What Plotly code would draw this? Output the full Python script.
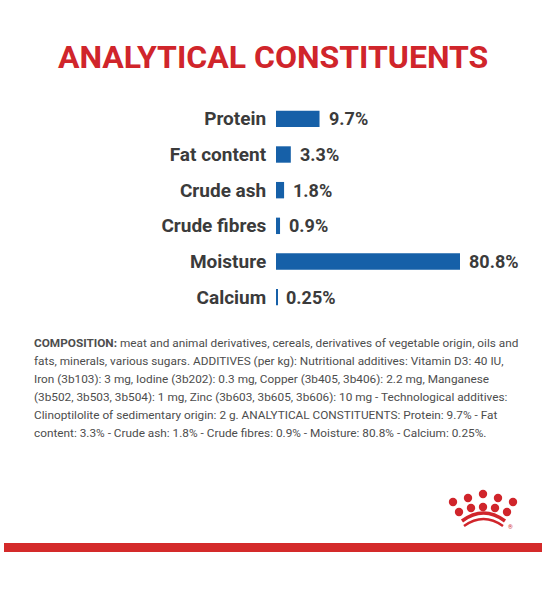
import plotly.graph_objects as go

# ---- data ----
categories = ["Protein", "Fat content", "Crude ash", "Crude fibres", "Moisture", "Calcium"]
values = [9.7, 3.3, 1.8, 0.9, 80.8, 0.25]
value_labels = ["9.7%", "3.3%", "1.8%", "0.9%", "80.8%", "0.25%"]

title_text = "ANALYTICAL CONSTITUENTS"
composition_lines = [
    "<b>COMPOSITION:</b> meat and animal derivatives, cereals, derivatives of vegetable origin, oils and",
    "fats, minerals, various sugars. ADDITIVES (per kg): Nutritional additives: Vitamin D3: 40 IU,",
    "Iron (3b103): 3 mg, Iodine (3b202): 0.3 mg, Copper (3b405, 3b406): 2.2 mg, Manganese",
    "(3b502, 3b503, 3b504): 1 mg, Zinc (3b603, 3b605, 3b606): 10 mg - Technological additives:",
    "Clinoptilolite of sedimentary origin: 2 g. ANALYTICAL CONSTITUENTS: Protein: 9.7% - Fat",
    "content: 3.3% - Crude ash: 1.8% - Crude fibres: 0.9% - Moisture: 80.8% - Calcium: 0.25%.",
]

# ---- styling / layout ----
W, H = 546, 600
L, R, T, B = 276, 460, 101, 315   # plot area in px
XMAX = 41.0                        # axis max: the long Moisture bar runs to the edge
FONT = "Roboto, Liberation Sans, Arial, sans-serif"
RED = "#d0252b"
BLUE = "#1660a8"
DARK = "#3b3b3b"

def px(x):
    return (x - L) / (R - L)

def py(y):
    return (B - y) / (B - T)

fig = go.Figure()
fig.add_trace(go.Bar(
    x=values, y=categories, orientation="h",
    marker=dict(color=BLUE, line=dict(width=0)),
    width=0.46, hoverinfo="skip",
))

annotations = []
for c, v, lab in zip(categories, values, value_labels):
    annotations.append(dict(
        x=min(v, XMAX), y=c, xref="x", yref="y", text=f"<b>{lab}</b>",
        showarrow=False, xanchor="left", yanchor="middle", xshift=7,
        font=dict(family=FONT, size=18, color=DARK),
    ))

annotations.append(dict(
    x=px(273), y=py(57), xref="paper", yref="paper", text=f"<b>{title_text}</b>",
    showarrow=False, xanchor="center", yanchor="middle",
    font=dict(family=FONT, size=32, color=RED),
))

line_y0, line_dy = 343, 18
for i, ln in enumerate(composition_lines):
    annotations.append(dict(
        x=px(32), y=py(line_y0 + i * line_dy), xref="paper", yref="paper",
        text=ln, align="left",
        showarrow=False, xanchor="left", yanchor="middle",
        font=dict(family=FONT, size=11.8, color="#4d4d4d"),
    ))

annotations.append(dict(
    x=px(510), y=py(526), xref="paper", yref="paper", text="®",
    showarrow=False, xanchor="center", yanchor="middle",
    font=dict(family=FONT, size=6, color=RED),
))

shapes = []
# bottom red band
shapes.append(dict(type="rect", xref="paper", yref="paper",
                   x0=px(4), x1=px(542), y0=py(552), y1=py(543),
                   fillcolor="#d42a2a", line=dict(width=0), layer="above"))
# crown logo dots
dots = [(453, 502), (468, 498), (483, 494), (498, 498), (513, 502),
        (459, 512), (471, 508), (483, 507), (495, 508), (507, 512)]
r = 4.2
for (cx, cy) in dots:
    shapes.append(dict(type="circle", xref="paper", yref="paper",
                       x0=px(cx - r), x1=px(cx + r), y0=py(cy + r), y1=py(cy - r),
                       fillcolor=RED, line=dict(width=0)))
# crown arcs
for (x0, x1, yb, ypk, w) in [(462, 505, 521, 513, 3.5), (464, 503, 526, 519, 2.5)]:
    xm = (x0 + x1) / 2
    path = (f"M {px(x0)},{py(yb)} Q {px(xm)},{py(2*ypk - yb)} {px(x1)},{py(yb)}")
    shapes.append(dict(type="path", xref="paper", yref="paper", path=path,
                       line=dict(color=RED, width=w)))

fig.update_layout(
    width=W, height=H,
    margin=dict(l=L, r=W - R, t=T, b=H - B, pad=0),
    paper_bgcolor="white", plot_bgcolor="white",
    showlegend=False,
    xaxis=dict(range=[0, XMAX], visible=False, fixedrange=True),
    yaxis=dict(
        categoryorder="array", categoryarray=categories, autorange="reversed",
        showgrid=False, zeroline=False, showline=False,
        ticks="outside", ticklen=5, tickcolor="rgba(0,0,0,0)",
        tickfont=dict(family=FONT, size=19, color=DARK),
        tickprefix="<b>", ticksuffix="</b>",
        fixedrange=True,
    ),
    annotations=annotations,
    shapes=shapes,
)

fig.write_html(
    "out.html",
    config={"displayModeBar": False},
    post_script="document.body.style.margin='0';document.body.style.overflow='hidden';",
)
